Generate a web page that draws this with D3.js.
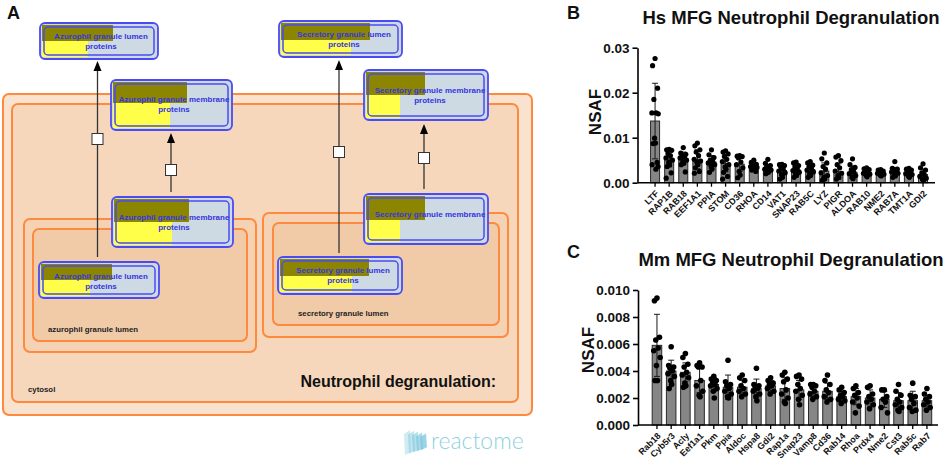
<!DOCTYPE html>
<html>
<head>
<meta charset="utf-8">
<script src="https://cdn.jsdelivr.net/npm/d3@7"></script>
<style>
  body { margin: 0; background: #fff; }
  svg { display: block; font-family: "Liberation Sans", Arial, sans-serif; }
</style>
</head>
<body>
<svg id="fig" width="948" height="467"></svg>
<script>
// ---- panel B : human MFG ----
const hsGenes = ["LTF", "RAP1B", "RAB18", "EEF1A1", "PPIA", "STOM", "CD36", "RHOA", "CD14", "VAT1",
  "SNAP23", "RAB5C", "LYZ", "PIGR", "ALDOA", "RAB10", "NME2", "RAB7A", "TMT1A", "GDI2"]
const hsMeans = [0.0137, 0.0053, 0.0054, 0.0052, 0.0046, 0.0043, 0.0041, 0.0036, 0.0032, 0.0027,
  0.0028, 0.0029, 0.0026, 0.0025, 0.0023, 0.0022, 0.0021, 0.0024, 0.0021, 0.0018]
const hsSd = [0.0084, 0.0018, 0.0014, 0.0021, 0.0014, 0.0019, 0.0016, 0.0008, 0.0009, 0.0011,
  0.0011, 0.0011, 0.0018, 0.0017, 0.0014, 0.0006, 0.0005, 0.001, 0.0007, 0.0012]
const hsPoints = [
  [0.0276, 0.026, 0.021, 0.0185, 0.0155, 0.0155, 0.0153, 0.0099, 0.0088, 0.0087, 0.0045, 0.004, 0.0036, 0.003],
  [0.0074, 0.0073, 0.0072, 0.0065, 0.006, 0.0055, 0.005, 0.0045, 0.004, 0.0036, 0.0022, 0.001],
  [0.0078, 0.0066, 0.0063, 0.006, 0.0057, 0.0055, 0.005, 0.0047, 0.0043, 0.004, 0.0024],
  [0.0088, 0.0082, 0.0073, 0.0068, 0.006, 0.0052, 0.0048, 0.0045, 0.004, 0.0033, 0.0025, 0.0021],
  [0.0073, 0.0062, 0.0056, 0.005, 0.0047, 0.0044, 0.004, 0.0037, 0.003, 0.0023],
  [0.0071, 0.0068, 0.0064, 0.0058, 0.0052, 0.0047, 0.004, 0.0035, 0.003, 0.0023, 0.0014, 0.0008],
  [0.006, 0.0059, 0.0058, 0.0055, 0.0046, 0.004, 0.0033, 0.0025, 0.0017, 0.0011],
  [0.005, 0.0045, 0.0041, 0.004, 0.0038, 0.0036, 0.0034, 0.0032, 0.003, 0.0028, 0.0025],
  [0.0052, 0.0043, 0.0038, 0.0035, 0.0033, 0.003, 0.0028, 0.0026, 0.0023, 0.002],
  [0.0041, 0.004, 0.0038, 0.0035, 0.003, 0.0026, 0.0022, 0.0018, 0.0012, 0.0008],
  [0.0046, 0.0044, 0.0038, 0.0035, 0.0031, 0.0027, 0.0023, 0.002, 0.0016, 0.0012],
  [0.0047, 0.0044, 0.0039, 0.0035, 0.0031, 0.0028, 0.0024, 0.002, 0.0016, 0.0012],
  [0.0066, 0.0053, 0.0044, 0.0036, 0.003, 0.0022, 0.0016, 0.0012, 0.0008, 0.0005],
  [0.006, 0.0057, 0.0049, 0.004, 0.0033, 0.0026, 0.0021, 0.0016, 0.0012, 0.0008],
  [0.0053, 0.004, 0.0034, 0.0029, 0.0024, 0.002, 0.0016, 0.0012, 0.0009],
  [0.0033, 0.0031, 0.0029, 0.0026, 0.0023, 0.0021, 0.0019, 0.0016, 0.0013],
  [0.0029, 0.0028, 0.0026, 0.0024, 0.0022, 0.0021, 0.0019, 0.0017, 0.0015],
  [0.0047, 0.0032, 0.003, 0.0028, 0.0026, 0.0024, 0.0021, 0.0018, 0.0015, 0.0012],
  [0.0032, 0.003, 0.0028, 0.0025, 0.0023, 0.002, 0.0018, 0.0015, 0.0012],
  [0.0042, 0.0033, 0.0028, 0.0022, 0.0018, 0.0014, 0.001, 0.0007, 0.0005]
]
const hsTicks = [0, 0.01, 0.02, 0.03]

// ---- panel C : mouse MFG ----
const mmGenes = ["Rab18", "Cyb5r3", "Acly", "Eef1a1", "Pkm", "Ppia", "Aldoc", "Hspa8", "Gdi2", "Rap1a",
  "Snap23", "Vamp8", "Cd36", "Rab14", "Rhoa", "Prdx4", "Nme2", "Cst3", "Rab5c", "Rab7"]
const mmMeans = [0.0059, 0.004, 0.0039, 0.0033, 0.003, 0.0028, 0.0028, 0.0027, 0.0029, 0.0027,
  0.0026, 0.0025, 0.0025, 0.0021, 0.0021, 0.002, 0.0019, 0.0018, 0.0018, 0.0018]
const mmSd = [0.0023, 0.0008, 0.0007, 0.0009, 0.0005, 0.0009, 0.0005, 0.0007, 0.0004, 0.0008,
  0.0007, 0.0004, 0.0006, 0.0004, 0.0006, 0.0006, 0.0006, 0.0006, 0.0007, 0.0004]
const mmPoints = [
  [0.0094, 0.0092, 0.0065, 0.0063, 0.0057, 0.0055, 0.005, 0.0044, 0.0033, 0.0033],
  [0.0058, 0.0044, 0.0043, 0.0042, 0.004, 0.0038, 0.0036, 0.0033, 0.003, 0.0027],
  [0.0053, 0.005, 0.0045, 0.0043, 0.0039, 0.0037, 0.0035, 0.0031, 0.0029, 0.0028],
  [0.0046, 0.0044, 0.0043, 0.0043, 0.0033, 0.0029, 0.0025, 0.0022, 0.0021],
  [0.0036, 0.0034, 0.0033, 0.0031, 0.003, 0.0029, 0.0027, 0.0025, 0.002],
  [0.0048, 0.0032, 0.003, 0.0029, 0.0027, 0.0025, 0.0023, 0.0021, 0.002],
  [0.0037, 0.0035, 0.0033, 0.0029, 0.0027, 0.0025, 0.0023, 0.0021],
  [0.0042, 0.003, 0.0029, 0.0028, 0.0027, 0.0025, 0.0023, 0.0021, 0.0018],
  [0.0035, 0.0033, 0.0031, 0.003, 0.0029, 0.0027, 0.0025, 0.0023],
  [0.0039, 0.0037, 0.0034, 0.0032, 0.0026, 0.0023, 0.002, 0.0017, 0.0016],
  [0.0037, 0.0036, 0.0034, 0.003, 0.0027, 0.0025, 0.0022, 0.0019, 0.0015],
  [0.003, 0.003, 0.0029, 0.0028, 0.0025, 0.0023, 0.0021, 0.0019],
  [0.0037, 0.0033, 0.003, 0.0026, 0.0024, 0.0021, 0.0019, 0.0017],
  [0.0028, 0.0026, 0.0024, 0.0022, 0.0021, 0.0019, 0.0018, 0.0016],
  [0.0029, 0.0027, 0.0024, 0.0022, 0.002, 0.0017, 0.0014, 0.0009],
  [0.0029, 0.0028, 0.0023, 0.0021, 0.0019, 0.0017, 0.0015, 0.0012],
  [0.0026, 0.0026, 0.0021, 0.0019, 0.0017, 0.0013, 0.0009],
  [0.003, 0.0025, 0.0022, 0.0019, 0.0017, 0.0015, 0.0013, 0.0011, 0.001],
  [0.0031, 0.0022, 0.0021, 0.0019, 0.0016, 0.0013, 0.0011, 0.001],
  [0.0027, 0.0023, 0.0021, 0.0019, 0.0017, 0.0015, 0.0013, 0.0011]
]
const mmTicks = [0, 0.002, 0.004, 0.006, 0.008, 0.01]

// ---- panel A : reactome diagram texts ----
const entityLabels = [
  ["Azurophil granule lumen", "proteins"],
  ["Azurophil granule membrane", "proteins"],
  ["Azurophil granule membrane", "proteins"],
  ["Azurophil granule lumen", "proteins"],
  ["Secretory granule lumen", "proteins"],
  ["Secretory granule membrane", "proteins"],
  ["Secretory granule membrane"],
  ["Secretory granule lumen", "proteins"]
]
const compartmentLabels = ["cytosol", "azurophil granule lumen", "secretory granule lumen"]
const pathwayTitle = "Neutrophil degranulation:"

const svg = d3.select("#fig")
svg.append("rect").attr("width", 948).attr("height", 467).attr("fill", "#fff")

drawDiagram(svg.append("g"))

drawBarChart(svg.append("g"), {
  genes: hsGenes, means: hsMeans, sd: hsSd, points: hsPoints, ticks: hsTicks, fmt: ".2f",
  yDomain: [0, 0.03], yRange: [182.7, 47.7], xRange: [643.5, 934.6], padIn: 0.36,
  axisX: 637.5, axisEnd: 935, r: 2.6,
  title: "Hs MFG Neutrophil Degranulation", titleY: 24, labelX: 601, labelY: 112
})

drawBarChart(svg.append("g"), {
  genes: mmGenes, means: mmMeans, sd: mmSd, points: mmPoints, ticks: mmTicks, fmt: ".3f",
  yDomain: [0, 0.01], yRange: [425, 290], xRange: [645.1, 938.8], padIn: 0.33,
  axisX: 638, axisEnd: 938, r: 2.8,
  title: "Mm MFG Neutrophil Degranulation", titleY: 266, labelX: 594, labelY: 350
})

// panel letters
svg.selectAll("text.panel")
  .data([["A", 7, 19], ["B", 567, 19], ["C", 567, 258]])
  .join("text")
  .classed("panel", true)
  .attr("x", (d) => d[1])
  .attr("y", (d) => d[2])
  .attr("font-size", 18)
  .attr("font-weight", "bold")
  .attr("fill", "#111")
  .text((d) => d[0])

function drawBarChart(g, cfg) {
  const x = d3.scaleBand().domain(cfg.genes).range(cfg.xRange).paddingInner(cfg.padIn).paddingOuter(0.5)
  const y = d3.scaleLinear().domain(cfg.yDomain).range(cfg.yRange)
  const data = cfg.genes.map((gene, i) => ({ gene, mean: cfg.means[i], sd: cfg.sd[i], pts: cfg.points[i] }))
  const jitter = [0, -2.5, 2.5, -1.2, 1.2, -3.2, 3.2, -0.5, 0.5, -2, 2, -3, 3, 0.8, -0.8]
  const cx = (d) => x(d.gene) + x.bandwidth() / 2

  g.append("g")
    .selectAll("rect")
    .data(data)
    .join("rect")
    .attr("x", (d) => x(d.gene))
    .attr("y", (d) => y(d.mean))
    .attr("width", x.bandwidth())
    .attr("height", (d) => y(0) - y(d.mean))
    .attr("fill", "#868686")
    .attr("stroke", "#2a2a2a")
    .attr("stroke-width", 1)

  // error bars (mean +/- SD)
  const err = g.append("g").attr("stroke", "#1a1a1a").attr("stroke-width", 1)
  err.selectAll("path")
    .data(data)
    .join("path")
    .attr("fill", "none")
    .attr("d", (d) => {
      const c = cx(d)
      const hi = y(d.mean + d.sd)
      const lo = y(Math.max(0, d.mean - d.sd))
      return `M${c},${lo}V${hi}M${c - 3},${hi}H${c + 3}M${c - 3},${lo}H${c + 3}`
    })

  // individual samples
  g.append("g")
    .selectAll("g")
    .data(data)
    .join("g")
    .each(function (d) {
      d3.select(this)
        .selectAll("circle")
        .data(d.pts)
        .join("circle")
        .attr("cx", (v, i) => cx(d) + jitter[i % jitter.length])
        .attr("cy", (v) => y(v))
        .attr("r", cfg.r)
        .attr("fill", "#000")
    })

  // y axis
  const yAxis = g.append("g")
    .attr("transform", `translate(${cfg.axisX},0)`)
    .call(d3.axisLeft(y).tickValues(cfg.ticks).tickFormat(d3.format(cfg.fmt)).tickSize(5).tickSizeOuter(0))
  yAxis.select(".domain").attr("stroke-width", 1.6)
  yAxis.selectAll(".tick line").attr("stroke-width", 1.6)
  yAxis.selectAll(".tick text")
    .attr("font-size", 13.5)
    .attr("font-weight", "bold")
    .attr("font-family", "Liberation Sans, Arial, sans-serif")
    .attr("fill", "#111")

  // x axis
  const xAxis = g.append("g")
    .attr("transform", `translate(0,${y(0)})`)
    .call(d3.axisBottom(x).tickSize(4).tickSizeOuter(0))
  xAxis.select(".domain").remove()
  xAxis.selectAll(".tick line").attr("stroke-width", 1.3)
  xAxis.selectAll(".tick text")
    .attr("x", -5)
    .attr("y", 8)
    .attr("dy", "0.35em")
    .attr("transform", "rotate(-45)")
    .style("text-anchor", "end")
    .attr("font-size", 9)
    .attr("font-weight", "bold")
    .attr("font-family", "Liberation Sans, Arial, sans-serif")
    .attr("fill", "#111")
  g.append("line")
    .attr("x1", cfg.axisX)
    .attr("x2", cfg.axisEnd)
    .attr("y1", y(0))
    .attr("y2", y(0))
    .attr("stroke", "#000")
    .attr("stroke-width", 1.6)

  g.append("text")
    .attr("x", 791)
    .attr("y", cfg.titleY)
    .attr("text-anchor", "middle")
    .attr("font-size", 18.5)
    .attr("font-weight", "bold")
    .attr("fill", "#111")
    .text(cfg.title)

  g.append("text")
    .attr("transform", `translate(${cfg.labelX},${cfg.labelY}) rotate(-90)`)
    .attr("text-anchor", "middle")
    .attr("font-size", 17)
    .attr("font-weight", "bold")
    .attr("fill", "#111")
    .text("NSAF")
}

function drawDiagram(g) {
  const orange = "#fd8a3e"
  const compartments = [
    { x: 3, y: 94, w: 529, h: 321, fill: "#f9e3ce" },
    { x: 12, y: 104, w: 506, h: 298, fill: "#f6d7bb" },
    { x: 24, y: 219, w: 232, h: 133, fill: "#f4d2b3" },
    { x: 33, y: 229, w: 214, h: 112, fill: "#f1caa8" },
    { x: 263, y: 213, w: 245, h: 124, fill: "#f4d2b3" },
    { x: 273, y: 223, w: 226, h: 102, fill: "#f1caa8" }
  ]
  g.selectAll("rect.comp")
    .data(compartments)
    .join("rect")
    .classed("comp", true)
    .attr("x", (d) => d.x)
    .attr("y", (d) => d.y)
    .attr("width", (d) => d.w)
    .attr("height", (d) => d.h)
    .attr("rx", 6)
    .attr("fill", (d) => d.fill)
    .attr("stroke", orange)
    .attr("stroke-width", 2)

  const compLabelPos = [[28, 392], [48, 332], [298, 316]]
  g.selectAll("text.comp-label")
    .data(compartmentLabels)
    .join("text")
    .classed("comp-label", true)
    .attr("x", (d, i) => compLabelPos[i][0])
    .attr("y", (d, i) => compLabelPos[i][1])
    .attr("font-size", 7.8)
    .attr("font-weight", "bold")
    .attr("fill", "#222")
    .text((d) => d)

  g.append("text")
    .attr("x", 496)
    .attr("y", 387)
    .attr("text-anchor", "end")
    .attr("font-size", 16)
    .attr("font-weight", "bold")
    .attr("fill", "#111")
    .text(pathwayTitle)

  // reactions: vertical line, process node square and arrow head
  const reactions = [
    { x: 97.5, from: 257, tip: 61, node: 139 },
    { x: 171, from: 192, tip: 133, node: 170 },
    { x: 339, from: 253, tip: 60, node: 152 },
    { x: 424, from: 189, tip: 124, node: 158 }
  ]
  const rx = g.selectAll("g.reaction").data(reactions).join("g").classed("reaction", true)
  rx.append("line")
    .attr("x1", (d) => d.x)
    .attr("x2", (d) => d.x)
    .attr("y1", (d) => d.from)
    .attr("y2", (d) => d.tip + 8)
    .attr("stroke", "#333")
    .attr("stroke-width", 1.3)
  rx.append("path")
    .attr("d", (d) => `M${d.x},${d.tip}L${d.x - 4},${d.tip + 10}L${d.x + 4},${d.tip + 10}Z`)
    .attr("fill", "#000")
  rx.append("rect")
    .attr("x", (d) => d.x - 5.5)
    .attr("y", (d) => d.node - 5.5)
    .attr("width", 11)
    .attr("height", 11)
    .attr("fill", "#fff")
    .attr("stroke", "#333")
    .attr("stroke-width", 1)

  // protein sets
  const boxes = [
    { x: 40, y: 23, w: 118, h: 36, olive: 113, yellow: 88, split: 41, cx: 101, ty: 39 },
    { x: 111, y: 80, w: 121, h: 50, olive: 187, yellow: 170, split: 103, cx: 174, ty: 102 },
    { x: 112, y: 197, w: 121, h: 50, olive: 189, yellow: 172, split: 222, cx: 174, ty: 220 },
    { x: 39, y: 262, w: 120, h: 36, olive: 112, yellow: 90, split: 280, cx: 101, ty: 279 },
    { x: 279, y: 21, w: 123, h: 36, olive: 370, yellow: 351, split: 40, cx: 344, ty: 37 },
    { x: 364, y: 70, w: 124, h: 50, olive: 425, yellow: 400, split: 95, cx: 430, ty: 93 },
    { x: 364, y: 194, w: 124, h: 50, olive: 425, yellow: 400, split: 220, cx: 430, ty: 217 },
    { x: 278, y: 257, w: 124, h: 37, olive: 369, yellow: 352, split: 276, cx: 343, ty: 273 }
  ]
  const blue = "#4b4bf2"
  const ent = g.selectAll("g.entity").data(boxes).join("g").classed("entity", true)
  ent.append("rect")
    .attr("x", (d) => d.x)
    .attr("y", (d) => d.y)
    .attr("width", (d) => d.w)
    .attr("height", (d) => d.h)
    .attr("rx", 5)
    .attr("fill", "#cdd9e3")
    .attr("stroke", blue)
    .attr("stroke-width", 1.8)
  ent.append("rect")
    .attr("x", (d) => d.x + 2)
    .attr("y", (d) => d.y + 2)
    .attr("width", (d) => d.olive - d.x - 2)
    .attr("height", (d) => d.split - d.y - 2)
    .attr("fill", "#8b8500")
  ent.append("rect")
    .attr("x", (d) => d.x + 2)
    .attr("y", (d) => d.split)
    .attr("width", (d) => d.yellow - d.x - 2)
    .attr("height", (d) => d.y + d.h - 2 - d.split)
    .attr("fill", "#ffff4a")
  ent.append("rect")
    .attr("x", (d) => d.x + 4)
    .attr("y", (d) => d.y + 4)
    .attr("width", (d) => d.w - 8)
    .attr("height", (d) => d.h - 8)
    .attr("rx", 4)
    .attr("fill", "none")
    .attr("stroke", blue)
    .attr("stroke-width", 1.5)
  ent.each(function (d, i) {
    d3.select(this)
      .selectAll("text")
      .data(entityLabels[i])
      .join("text")
      .attr("x", d.cx)
      .attr("y", (t, j) => d.ty + j * 10)
      .attr("text-anchor", "middle")
      .attr("font-size", 8)
      .attr("font-weight", "bold")
      .attr("fill", "#3535e0")
      .text((t) => t)
  })

  // reactome logo
  const logo = g.append("g").attr("transform", "translate(404,428)")
  const strips = [0, 4, 8, 12, 16]
  logo.selectAll("path")
    .data(strips)
    .join("path")
    .attr("d", (d) => `M${d},${6 + d * 0.2}L${d + 6},${2 + d * 0.2}L${d + 7},${24 - d * 0.3}L${d + 1},${27 - d * 0.3}Z`)
    .attr("fill", "#7cc6dc")
    .attr("opacity", (d, i) => 0.35 + i * 0.1)
  g.append("text")
    .attr("x", 431)
    .attr("y", 449)
    .attr("font-family", "Lato, 'Open Sans', sans-serif")
    .attr("font-weight", 300)
    .attr("font-size", 23)
    .attr("fill", "#8fd0e2")
    .text("reactome")
}
</script>
</body>
</html>
